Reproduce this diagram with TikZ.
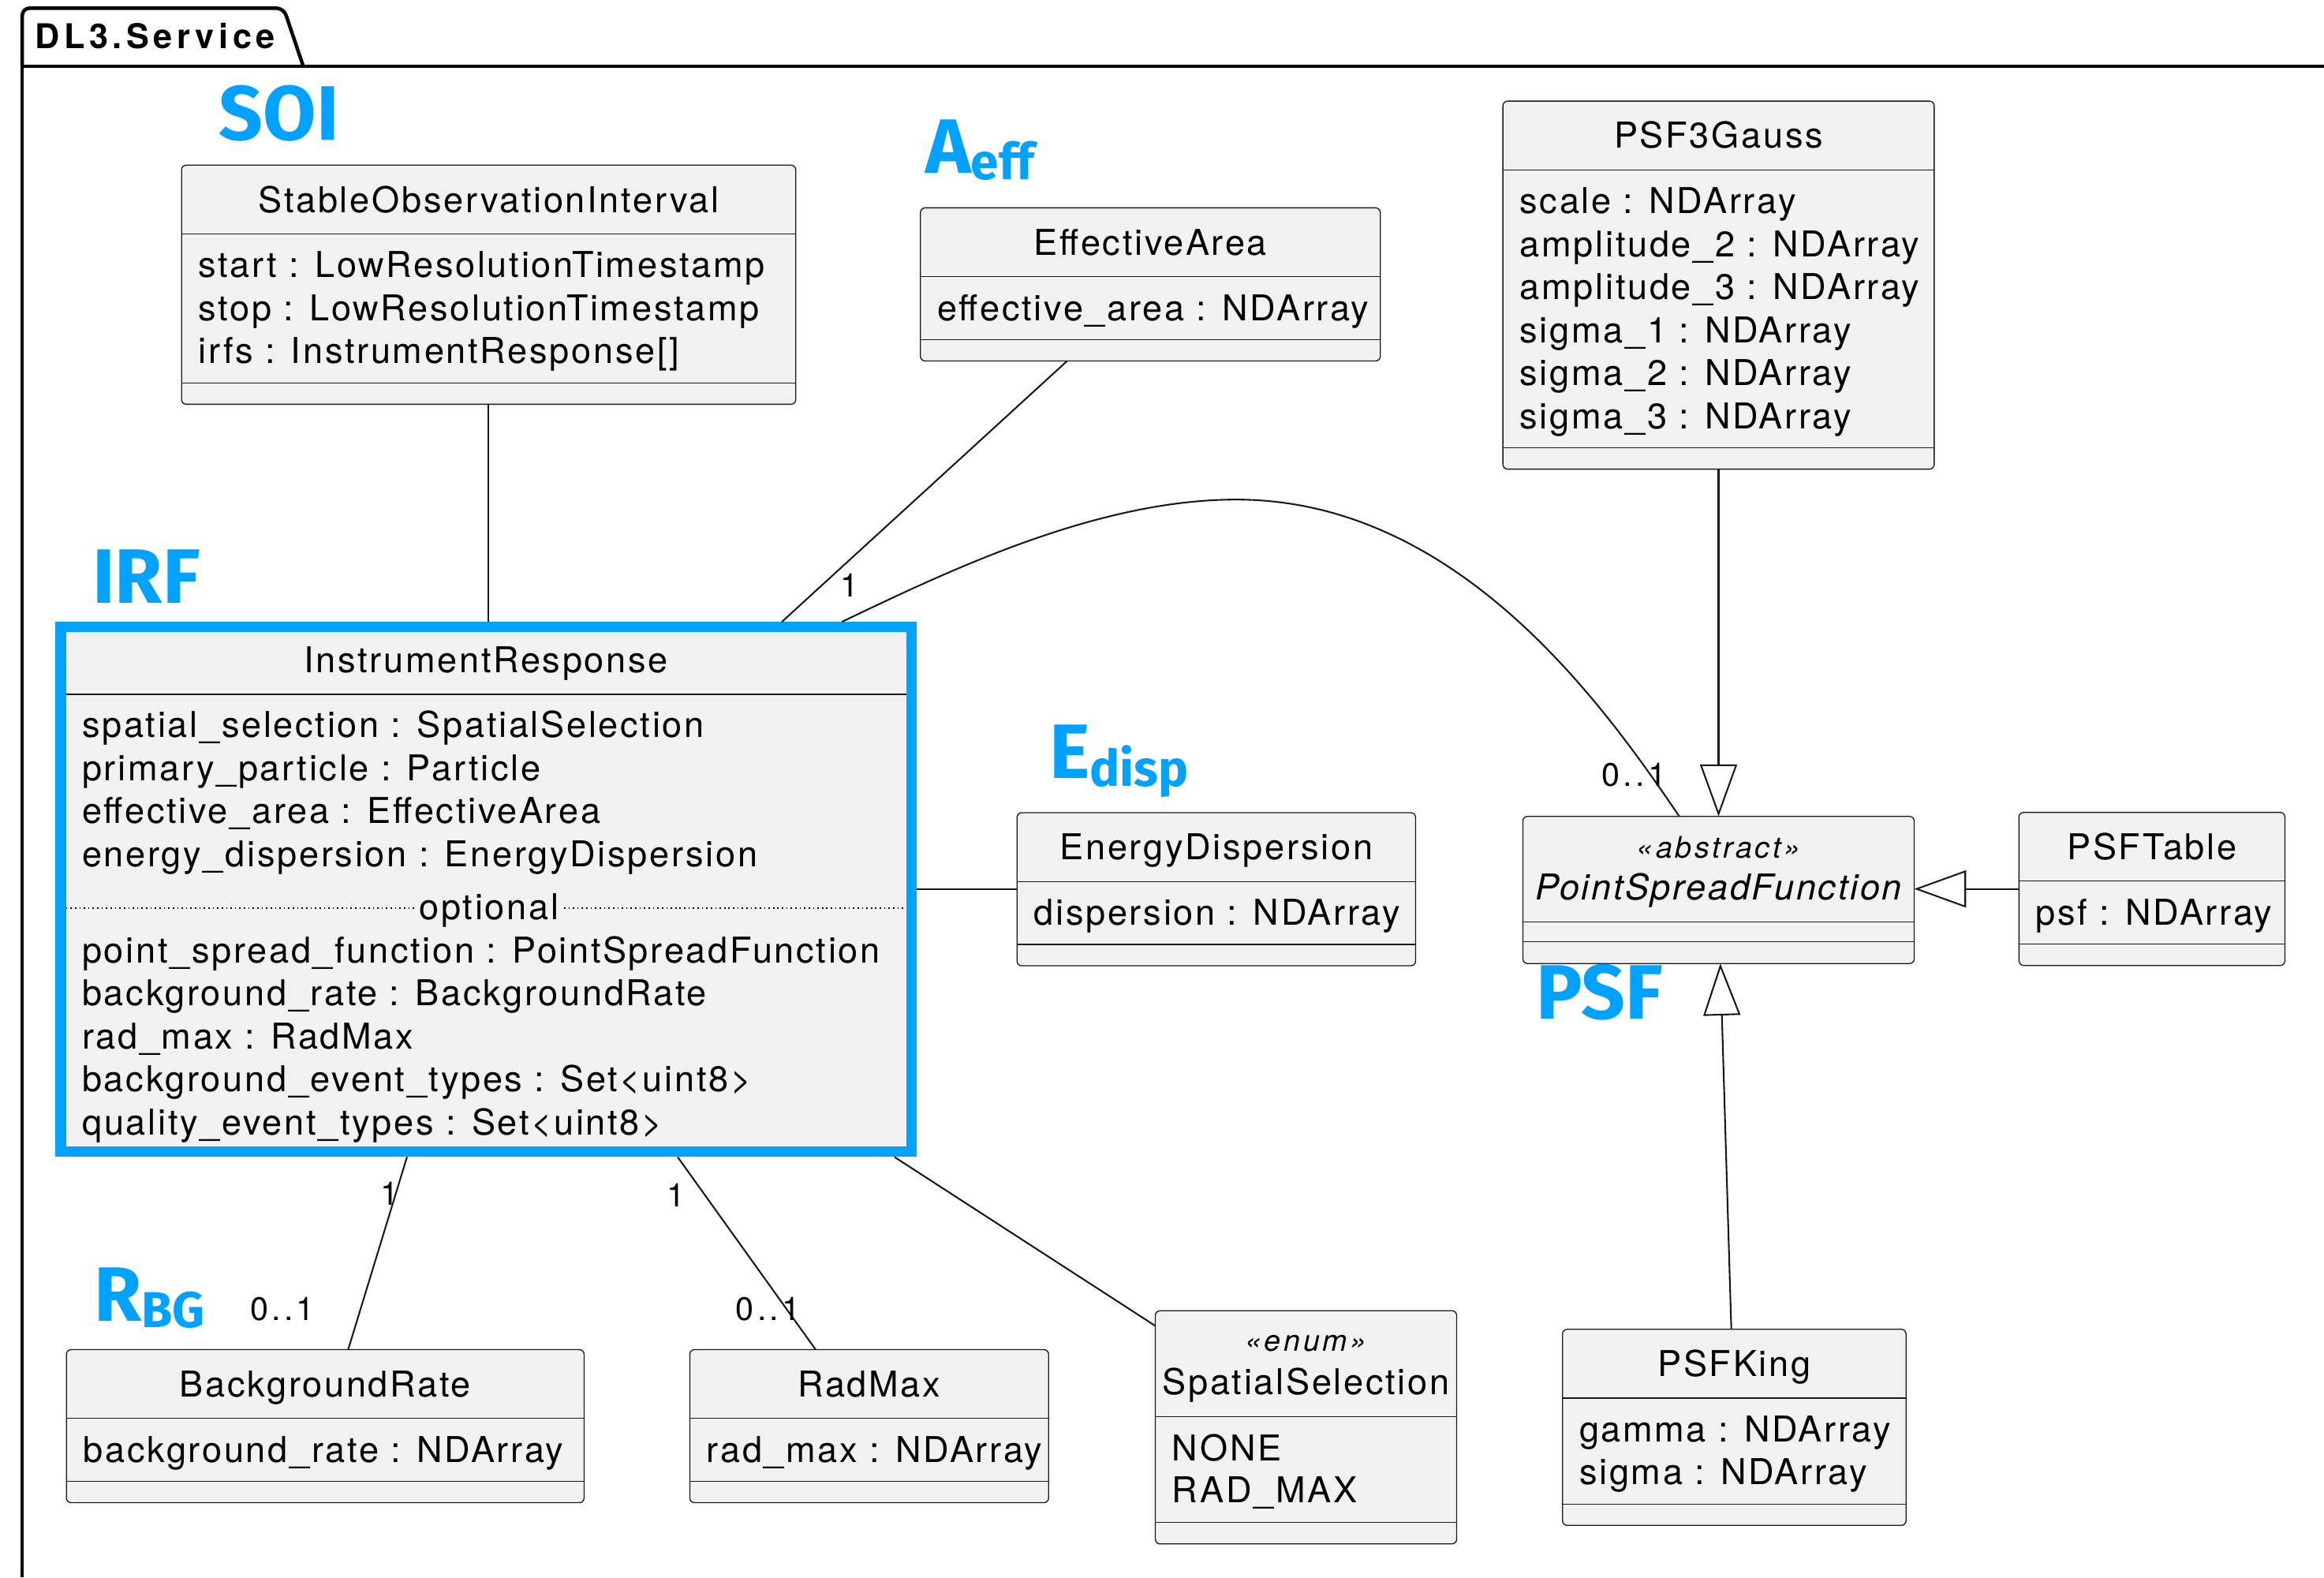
\documentclass[tikz,border=0pt]{standalone}
\usepackage{fontspec}
\setmainfont{TeX Gyre Heros}
\newfontfamily\umlfont[LetterSpace=10]{TeX Gyre Heros}
\newfontfamily\attrfont[LetterSpace=6]{TeX Gyre Heros}
\newfontfamily\pkgfont[LetterSpace=13]{TeX Gyre Heros}
\newfontfamily\tagfont{Fira Sans}
\usetikzlibrary{calc,arrows.meta}
\definecolor{clsfill}{HTML}{F1F1F1}
\definecolor{clsborder}{HTML}{181818}
\definecolor{connc}{HTML}{181818}
\definecolor{irblue}{RGB}{0,162,255}

% #1 name, #2 left, #3 top, #4 width, #5 title, #6 number of attributes, #7 attributes
\newcommand\umlclass[7]{%
  \node[cls, anchor=north west, minimum width={#4*0.5pt}, minimum height={(74.3+29*#6)*0.5pt}] (#1) at (#2,#3) {};
  \node[txt, anchor=base] (#1-title) at ($(#1.north)+(0,31.8)$) {#5};
  \draw[sepl] ($(#1.north west)+(0,46.4)$) -- ($(#1.north east)+(0,46.4)$);
  \foreach \a [count=\i from 0] in {#7}{%
    \node[txt, anchor=base west] (#1-a\i) at ($(#1.north west)+(11,{75.9+29*\i})$) {\a};
  }
  \draw[sepl] ($(#1.north west)+(0,{59.9+29*#6})$) -- ($(#1.north east)+(0,{59.9+29*#6})$);
}

\begin{document}
\begin{tikzpicture}[x=0.5pt,y=-0.5pt,
  cls/.style={draw=clsborder, fill=clsfill, line width=0.35pt, rounded corners=1.6pt, inner sep=0pt, outer sep=0pt},
  txt/.style={font=\attrfont\fontsize{12}{14}\selectfont, inner sep=0pt, text=black},
  stereo/.style={font=\umlfont\itshape\fontsize{10}{12}\selectfont, inner sep=0pt, text=black},
  sepl/.style={draw=clsborder, line width=0.35pt},
  conn/.style={draw=connc, line width=0.55pt},
  gen/.style={-{Triangle[open,length=17.5pt,width=12.5pt]}},
  mult/.style={font=\umlfont\fontsize{11}{13}\selectfont, inner sep=0pt, text=black},
  tag/.style={font=\tagfont\bfseries\fontsize{26}{28}\selectfont, text=irblue, inner sep=0pt},
  pkg/.style={draw=black, line width=1.2pt},
]
\useasboundingbox (0,0) rectangle (1568,1064);

% package frame
\draw[pkg] (15,1064) -- (15,44.7) -- (1568,44.7);
\draw[pkg, rounded corners=2.5pt] (15,44.7) -- (15,5.5) -- (191.4,5.5) -- (204.6,44.7);
\node[font=\pkgfont\bfseries\fontsize{11.5}{13}\selectfont, anchor=base west, inner sep=0pt] (pkgname) at (23.2,33) {DL3.Service};

% blue tags
\node[tag, anchor=base west] (soitag) at (147.5,94.4) {SOI};
\node[tag, anchor=base west] (irftag) at (62,406.8) {IRF};
\node[tag, anchor=base west] (psftag) at (1036,687.5) {PSF};
\node[tag, anchor=base west] (aefftag) at (624,116.7) {A\raisebox{-2.15pt}{\fontsize{17}{17}\selectfont eff}};
\node[tag, anchor=base west] (edisptag) at (707.5,525.2) {E\raisebox{-2.65pt}{\fontsize{17}{17}\selectfont disp}};
\node[tag, anchor=base west] (rbgtag) at (63,891) {R\raisebox{-2.15pt}{\fontsize{17}{17}\selectfont BG}};

% standard classes
\umlclass{soi}{122.5}{111.4}{414.4}{StableObservationInterval}{3}{start : LowResolutionTimestamp,stop : LowResolutionTimestamp,irfs : InstrumentResponse[]}
\umlclass{effarea}{621}{140.2}{310.3}{EffectiveArea}{1}{effective\_area : NDArray}
\umlclass{psf3}{1014}{68.2}{291}{PSF3Gauss}{6}{scale : NDArray,amplitude\_2 : NDArray,amplitude\_3 : NDArray,sigma\_1 : NDArray,sigma\_2 : NDArray,sigma\_3 : NDArray}
\umlclass{edisp}{686.2}{548.2}{268.9}{EnergyDispersion}{1}{dispersion : NDArray}
\umlclass{psftable}{1362.2}{548}{179.4}{PSFTable}{1}{psf : NDArray}
\umlclass{psfking}{1054.2}{896.7}{231.8}{PSFKing}{2}{gamma : NDArray,sigma : NDArray}
\umlclass{bgrate}{44.8}{910.4}{349.3}{BackgroundRate}{1}{background\_rate : NDArray}
\umlclass{radmax}{465.4}{910.4}{242.1}{RadMax}{1}{rad\_max : NDArray}

% abstract PointSpreadFunction
\node[cls, anchor=north west, minimum width=132pt, minimum height=49.65pt] (psf) at (1027.5,550.7) {};
\node[stereo, anchor=base] (psf-st) at ($(psf.north)+(0,28.1)$) {«abstract»};
\node[txt, anchor=base, font=\attrfont\itshape\fontsize{12}{14}\selectfont] (psf-title) at ($(psf.north)+(0,56.2)$) {PointSpreadFunction};
\draw[sepl] ($(psf.north west)+(0,71.3)$) -- ($(psf.north east)+(0,71.3)$);
\draw[sepl] ($(psf.north west)+(0,84.7)$) -- ($(psf.north east)+(0,84.7)$);

% enum SpatialSelection
\node[cls, anchor=north west, minimum width=101.65pt, minimum height=78.65pt] (spatial) at (779.5,884.2) {};
\node[stereo, anchor=base] (spatial-st) at ($(spatial.north)+(0,27.2)$) {«enum»};
\node[txt, anchor=base] (spatial-title) at ($(spatial.north)+(0,56.5)$) {SpatialSelection};
\draw[sepl] ($(spatial.north west)+(0,71.4)$) -- ($(spatial.north east)+(0,71.4)$);
\node[txt, anchor=base west] (spatial-a0) at ($(spatial.north west)+(11,101)$) {NONE};
\node[txt, anchor=base west] (spatial-a1) at ($(spatial.north west)+(11,129.7)$) {RAD\_MAX};
\draw[sepl] ($(spatial.north west)+(0,142.9)$) -- ($(spatial.north east)+(0,142.9)$);

% InstrumentResponse
\node[draw=irblue, fill=clsfill, line width=3.5pt, inner sep=0pt, outer sep=1.75pt,
      minimum width=286.9pt, minimum height=177pt, anchor=north west] (ir) at (37.5,419.5) {};
\node[txt, anchor=base] (ir-title) at ($(ir.north)+(0,34)$) {InstrumentResponse};
\draw[sepl] ($(ir.north west)+(7,48.8)$) -- ($(ir.north east)+(-7,48.8)$);
\foreach \a [count=\i from 0] in {spatial\_selection : SpatialSelection,primary\_particle : Particle,effective\_area : EffectiveArea,energy\_dispersion : EnergyDispersion}{%
  \node[txt, anchor=base west] (ir-a\i) at ($(ir.north west)+(17.5,{78.1+29*\i})$) {\a};
}
\draw[draw=black, line width=0.5pt, dash pattern=on 0.45pt off 1.05pt] ($(ir.north west)+(7,193)$) -- ($(ir.north east)+(-7,193)$);
\node[txt, anchor=base, fill=clsfill, inner xsep=1pt] (ir-opt) at (330,620.5) {optional};
\foreach \a [count=\i from 0] in {point\_spread\_function : PointSpreadFunction,background\_rate : BackgroundRate,rad\_max : RadMax,background\_event\_types : Set<uint8>,quality\_event\_types : Set<uint8>}{%
  \node[txt, anchor=base west] (ir-b\i) at ($(ir.north west)+(17.5,{229.9+29*\i})$) {\a};
}

% connectors
\draw[conn] (soi.south) -- (soi.south |- ir.north);
\draw[conn] ($(effarea.south west)+(99,0)$) -- ($(ir.north west)+(490,0)$);
\draw[conn] ($(ir.north west)+(530.5,0)$) .. controls (640,385) and (740,337) .. (834,337)
            .. controls (984,337) and (1082,475.75) .. ($(psf.north west)+(105.5,0)$);
\draw[conn, gen] (psf3.south) -- (psf3.south |- psf.north);
\draw[conn, gen] (psftable.west) -- (psftable.west -| psf.east);
\draw[conn, gen] ($(psfking.north)+(-2,0)$) -- ($(psf.south)+(1.2,0)$);
\draw[conn] (edisp.west) -- (edisp.west -| ir.east);
\draw[conn] ($(ir.south west)+(237.1,0)$) -- ($(bgrate.north west)+(190.1,0)$);
\draw[conn] ($(ir.south west)+(419.7,0)$) -- ($(radmax.north west)+(84.9,0)$);
\draw[conn] ($(ir.south west)+(566,0)$) -- ($(spatial.north west)+(0,10.2)$);

% multiplicities
\node[mult] (m-eff) at (573,395) {1};
\node[mult] (m-psf) at (1102.5,523) {0..1};
\node[mult] (m-bg1) at (262.8,805.4) {1};
\node[mult] (m-bg2) at (190.6,883.3) {0..1};
\node[mult] (m-rm1) at (456.3,806) {1};
\node[mult] (m-rm2) at (518.2,883.3) {0..1};
\end{tikzpicture}
\end{document}
